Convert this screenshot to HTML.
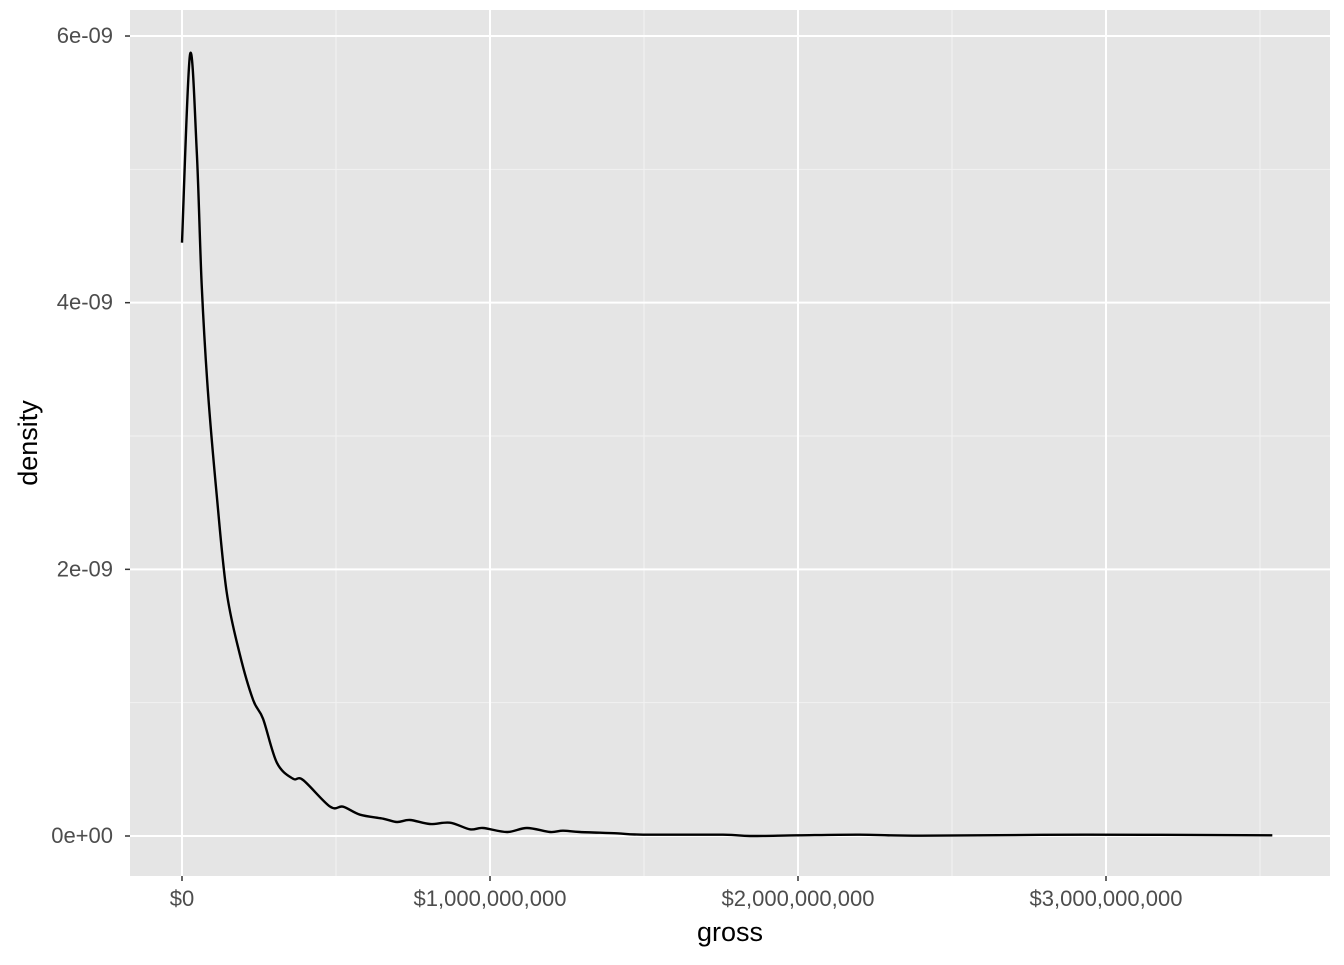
<!DOCTYPE html>
<html><head><meta charset="utf-8"><style>
body{margin:0;background:#fff;font-family:"Liberation Sans",Arial,sans-serif}
</style></head><body>
<svg id="c" width="1344" height="960" xmlns="http://www.w3.org/2000/svg"></svg>
<script>
const grossM=[0,26,48,64,84,113,145,188,231,263,308,360,393,481,523,578,653,698,740,805,870,935,977,1055,1120,1195,1237,1292,1412,1497,1756,1844,2000,2200,2400,2935,3540];
const densityE9=[4.45,5.86,5.13,4.13,3.34,2.55,1.83,1.36,1.02,0.88,0.55,0.43,0.42,0.22,0.22,0.16,0.13,0.105,0.12,0.09,0.1,0.05,0.06,0.03,0.06,0.03,0.04,0.03,0.02,0.01,0.01,0,0.005,0.01,0.002,0.01,0.005];
const xTicks=[0,1000,2000,3000];
const xTickLabels=["$0","$1,000,000,000","$2,000,000,000","$3,000,000,000"];
const yTicks=[0,2,4,6];
const yTickLabels=["0e+00","2e-09","4e-09","6e-09"];
const NS="http://www.w3.org/2000/svg";
const svg=document.getElementById('c');
const L=130,R=1330,T=10,B=876;
const xs=v=>182+v*0.308;
const ys=v=>836-v*133.33;
function el(t,a,p){const e=document.createElementNS(NS,t);for(const k in a)e.setAttribute(k,a[k]);(p||svg).appendChild(e);return e;}
const panel=el('rect',{x:L,y:T,width:R-L,height:B-T,fill:'#e5e5e5'});


[1,3,5].forEach(v=>{const g=el('line',{x1:L,x2:R,y1:ys(v),y2:ys(v),stroke:'#f2f2f2','stroke-width':1});});
[500,1500,2500,3500].forEach(v=>{const g=el('line',{x1:xs(v),x2:xs(v),y1:T,y2:B,stroke:'#f2f2f2','stroke-width':1});});
yTicks.forEach((v,i)=>{
 const g=el('line',{x1:L,x2:R,y1:ys(v),y2:ys(v),stroke:'#fff','stroke-width':2});
 const t=el('line',{x1:L-5,x2:L,y1:ys(v),y2:ys(v),stroke:'#333','stroke-width':1.5});
 const tx=el('text',{x:L-17,y:ys(v)+7,'text-anchor':'end','font-size':22,fill:'#4d4d4d'});tx.textContent=yTickLabels[i];
});
xTicks.forEach((v,i)=>{
 const g=el('line',{x1:xs(v),x2:xs(v),y1:T,y2:B,stroke:'#fff','stroke-width':2});
 const t=el('line',{x1:xs(v),x2:xs(v),y1:B,y2:B+5,stroke:'#333','stroke-width':1.5});
 const tx=el('text',{x:xs(v),y:B+30,'text-anchor':'middle','font-size':22,fill:'#4d4d4d'});tx.textContent=xTickLabels[i];
});
const P=grossM.map((g,i)=>[xs(g),ys(densityE9[i])]);
let d='M'+P[0][0]+','+P[0][1];
for(let i=0;i<P.length-1;i++){
 const p0=P[Math.max(0,i-1)],p1=P[i],p2=P[i+1],p3=P[Math.min(P.length-1,i+2)];
 const c1=[p1[0]+(p2[0]-p0[0])/6,p1[1]+(p2[1]-p0[1])/6],c2=[p2[0]-(p3[0]-p1[0])/6,p2[1]-(p3[1]-p1[1])/6];
 d+=` C${c1[0]},${c1[1]} ${c2[0]},${c2[1]} ${p2[0]},${p2[1]}`;
}
const line=el('path',{d:d,fill:'none',stroke:'#000','stroke-width':2.4});


const xt=el('text',{x:(L+R)/2,y:941,'text-anchor':'middle','font-size':27,fill:'#000'});xt.textContent='gross';


const yt=el('text',{x:0,y:0,'text-anchor':'middle','font-size':27,fill:'#000',transform:`translate(37,${(T+B)/2}) rotate(-90)`});yt.textContent='density';


</script>
</body></html>
